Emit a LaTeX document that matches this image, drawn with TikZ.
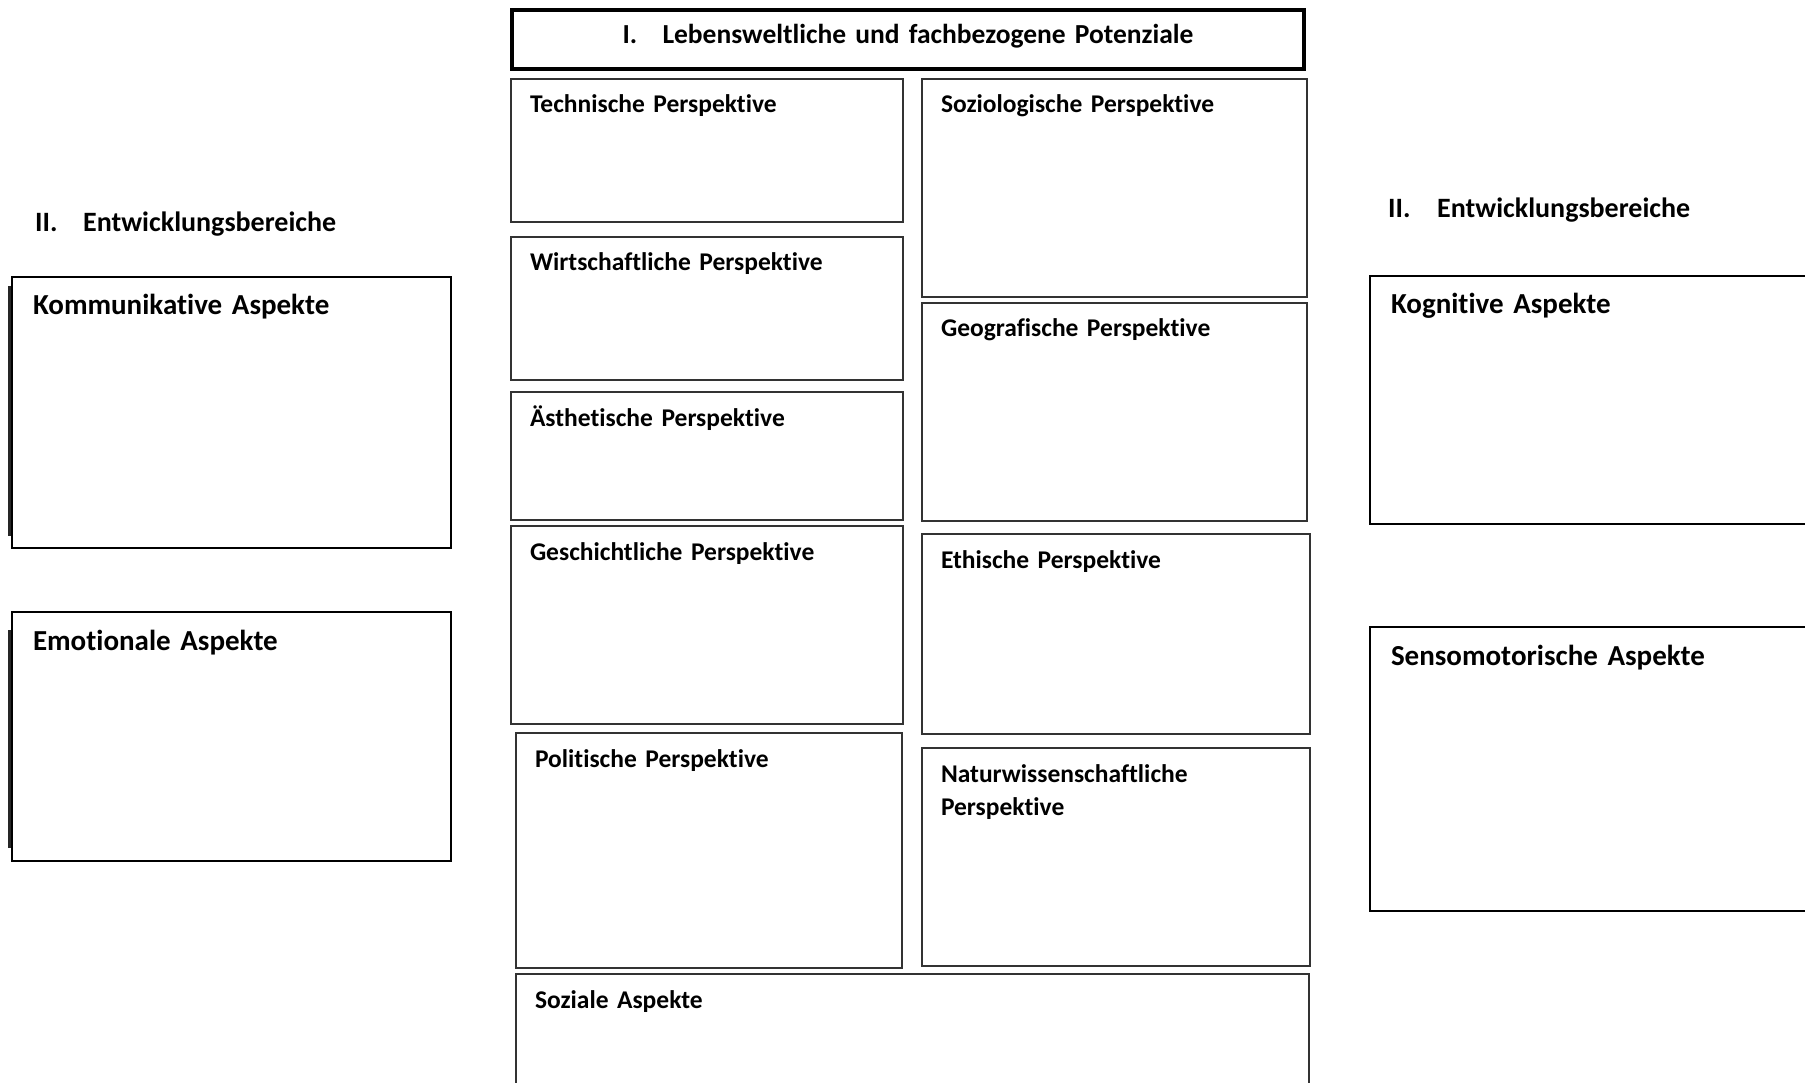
\documentclass[tikz,border=0pt]{standalone}
\usepackage{fontspec}
\setmainfont{Carlito}[Ligatures=NoCommon]
\usetikzlibrary{positioning}

\begin{document}
\begin{tikzpicture}[
  x=1pt, y=-1pt,
  font=\bfseries\fontsize{25.5}{33}\selectfont,
  panelbox/.style={draw=black!80, line width=2pt, anchor=north west,
                   align=left, inner xsep=19pt, inner ysep=0pt,
                   text height=34pt},
  aspectbox/.style={draw=black, line width=2pt, anchor=north west,
                    align=left, inner xsep=21pt, inner ysep=0pt,
                    text height=38pt,
                    font=\bfseries\fontsize{29}{34}\selectfont},
  areahead/.style={anchor=base west, inner sep=0pt,
                   font=\bfseries\fontsize{28}{34}\selectfont},
  dblline/.style={line width=2.5pt, black!85}]
\useasboundingbox (0,0) rectangle (1805,1083);

% head of the middle block
\node[draw=black, line width=4pt, anchor=north west, align=center,
      inner sep=0pt, text width=792pt, text height=34pt, text depth=25pt,
      font=\bfseries\fontsize{27.5}{33}\selectfont]
  (potenz) at (510,8) {\makebox[40pt][l]{I.}Lebensweltliche und fachbezogene Potenziale};

% left column of perspectives
\node[panelbox, text width=354pt, text depth=109pt] (tech) at (510,78)
  {Technische Perspektive};
\node[panelbox, text width=354pt, text depth=109pt, below=13pt of tech] (wirt)
  {Wirtschaftliche Perspektive};
\node[panelbox, text width=354pt, text depth=94pt, below=10pt of wirt] (aest)
  {Ästhetische Perspektive};
\node[panelbox, text width=354pt, text depth=164pt, below=4pt of aest] (gesch)
  {Geschichtliche Perspektive};
\node[panelbox, text width=348pt, text depth=201pt,
      below=7pt of gesch.south west, anchor=north west, xshift=5pt] (poli)
  {Politische Perspektive};

% right column of perspectives
\node[panelbox, text width=347pt, text depth=184pt] (soziol) at (921,78)
  {Soziologische Perspektive};
\node[panelbox, text width=347pt, text depth=184pt, below=4pt of soziol] (geo)
  {Geografische Perspektive};
\node[panelbox, text width=350pt, text depth=166pt,
      below=11pt of geo.south west, anchor=north west] (ethik)
  {Ethische Perspektive};
\node[panelbox, text width=350pt, text depth=184pt, below=12pt of ethik] (natw)
  {Naturwissenschaftliche\\Perspektive};

% spans both columns
\node[panelbox, text width=755pt, text depth=110pt,
      below=4pt of poli.south west, anchor=north west] (sozial)
  {Soziale Aspekte};

% development areas, left
\node[areahead] (entwL) at (35,232) {\makebox[48pt][l]{II.}Entwicklungsbereiche};
\node[aspectbox, text width=397pt, text depth=233pt] (komm) at (11,276)
  {Kommunikative Aspekte};
\node[aspectbox, text width=397pt, text depth=211pt, below=62pt of komm] (emo)
  {Emotionale Aspekte};
\draw[dblline] ([shift={(-1.5,10)}]komm.north west) -- ([shift={(-1.5,-13)}]komm.south west);
\draw[dblline] ([shift={(-1.5,19)}]emo.north west) -- ([shift={(-1.5,-14)}]emo.south west);

% development areas, right
\node[areahead] (entwR) at (1388,218) {\makebox[49pt][l]{II.}Entwicklungsbereiche};
\node[aspectbox, text width=440pt, text depth=210pt] (kogn) at (1369,275)
  {Kognitive Aspekte};
\node[aspectbox, text width=440pt, text depth=246pt,
      below=101pt of kogn.south west, anchor=north west] (senso)
  {Sensomotorische Aspekte};
\end{tikzpicture}
\end{document}
